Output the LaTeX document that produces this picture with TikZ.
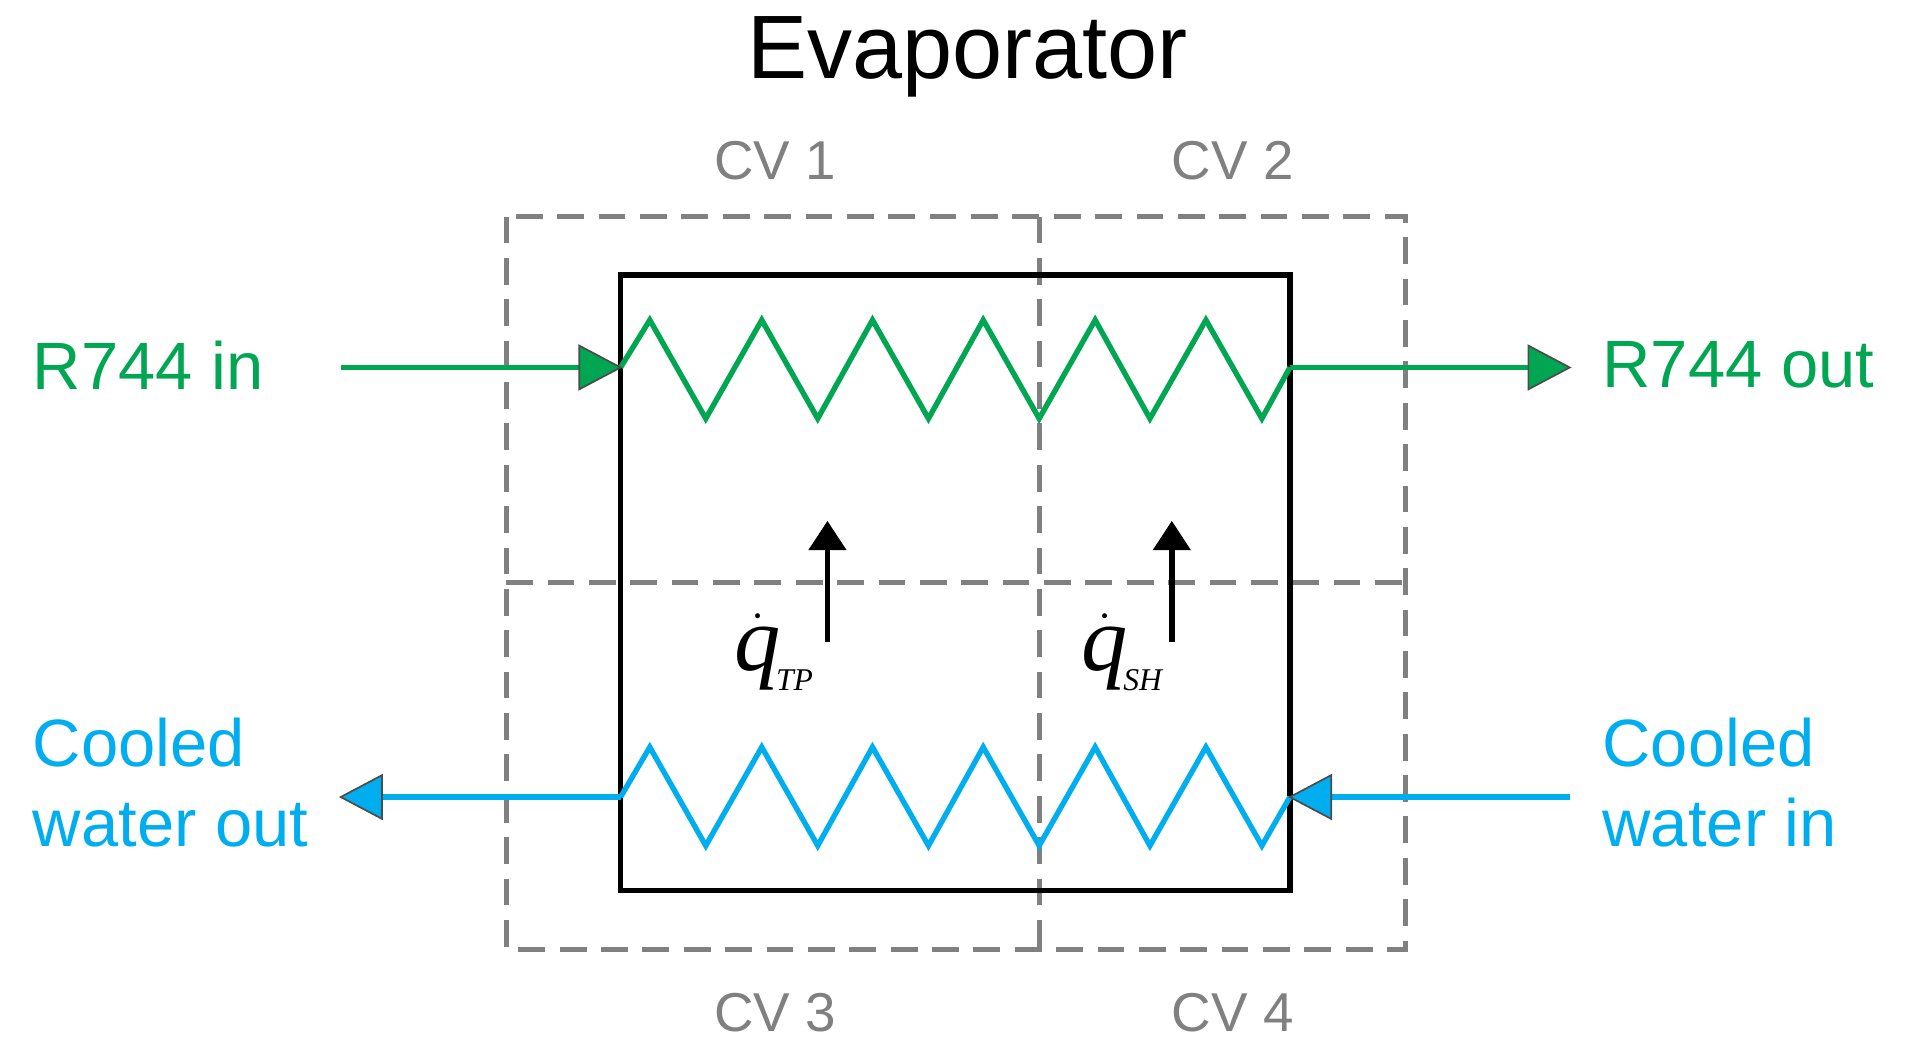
\documentclass[tikz,border=0pt]{standalone}
\usepackage{fontspec}
\setmainfont{Liberation Sans}
\newfontfamily\serifit{Liberation Serif}
\usetikzlibrary{arrows.meta}
\definecolor{gr}{HTML}{00A651}
\definecolor{bl}{HTML}{00AEEF}
\definecolor{gy}{HTML}{808080}
\begin{document}
\begin{tikzpicture}[x=0.5pt,y=-0.5pt,
  cv/.style={text=gy,font=\fontsize{22.5}{26}\selectfont},
  lab/.style={font=\fontsize{27.5}{33}\selectfont,anchor=west,align=left},
  cvdash/.style={gy,line width=2pt,dash pattern=on 11pt off 6pt},
  coil/.style={line width=2.2pt},
  tip/.style={line width=0.7pt,draw=black!70}]
\useasboundingbox (0,0) rectangle (1568,870);
\node[font=\fontsize{37}{44}\selectfont] (title) at (795,47) {Evaporator};
\node[cv] (cv1) at (637,132) {CV 1};
\node[cv] (cv2) at (1013,132) {CV 2};
\node[cv] (cv3) at (637,832) {CV 3};
\node[cv] (cv4) at (1013,832) {CV 4};
\draw[cvdash] (416,178) rectangle (1155,780);
\draw[cvdash] (854,178) -- (854,780);
\draw[cvdash] (416,479) -- (1155,479);
\draw[line width=2.2pt] (510,226) rectangle (1060,732);
% coils
\draw[gr,coil] (510,302) -- (534,263) -- (580,344) -- (626,263) -- (672,344) -- (717,263) -- (763,344) -- (808,263) -- (854,344) -- (900,263) -- (945,344) -- (991,263) -- (1037,344) -- (1060,302);
\draw[bl,coil] (510,655) -- (534,614) -- (580,695) -- (626,614) -- (672,695) -- (717,614) -- (763,695) -- (808,614) -- (854,695) -- (900,614) -- (945,695) -- (991,614) -- (1037,695) -- (1060,655);
% arrows
\coordinate (gi) at (280,302); \coordinate (gie) at (510,302);
\coordinate (go) at (1060,302); \coordinate (goe) at (1290,302);
\draw[gr,coil] (gi) -- (476,302);
\filldraw[fill=gr,tip] (476,284) -- (gie) -- (476,320) -- cycle;
\draw[gr,coil] (go) -- (1256,302);
\filldraw[fill=gr,tip] (1256,284) -- (goe) -- (1256,320) -- cycle;
\coordinate (bo) at (280,655); \coordinate (bi) at (1060,655);
\draw[bl,coil] (510,655) -- (314,655);
\filldraw[fill=bl,tip] (314,637) -- (bo) -- (314,673) -- cycle;
\draw[bl,coil] (1290,655) -- (1094,655);
\filldraw[fill=bl,tip] (1094,637) -- (bi) -- (1094,673) -- cycle;
\node[lab,text=gr] (r1) at (20,300) {R744 in};
\node[lab,text=gr] (r2) at (1310,300) {R744 out};
\node[lab,text=bl] (c1) at (20,643) {Cooled\\water out};
\node[lab,text=bl] (c2) at (1310,643) {Cooled\\water in};
\coordinate (a1) at (680,528); \coordinate (a1e) at (680,428);
\coordinate (a2) at (963,528); \coordinate (a2e) at (963,428);
\draw[line width=2.4pt,-{Triangle[length=12pt,width=15pt]}] (a1) -- (a1e);
\draw[line width=2.4pt,-{Triangle[length=12pt,width=15pt]}] (a2) -- (a2e);
\node[font=\serifit\itshape\fontsize{38}{40}\selectfont] (q1) at (636,536) {$\dot{\textit{q}}$\hspace{-2pt}\raisebox{-8pt}{\fontsize{13}{14}\selectfont TP}};
\node[font=\serifit\itshape\fontsize{38}{40}\selectfont] (q2) at (922,536) {$\dot{\textit{q}}$\hspace{-2pt}\raisebox{-8pt}{\fontsize{13}{14}\selectfont SH}};
\end{tikzpicture}
\end{document}
